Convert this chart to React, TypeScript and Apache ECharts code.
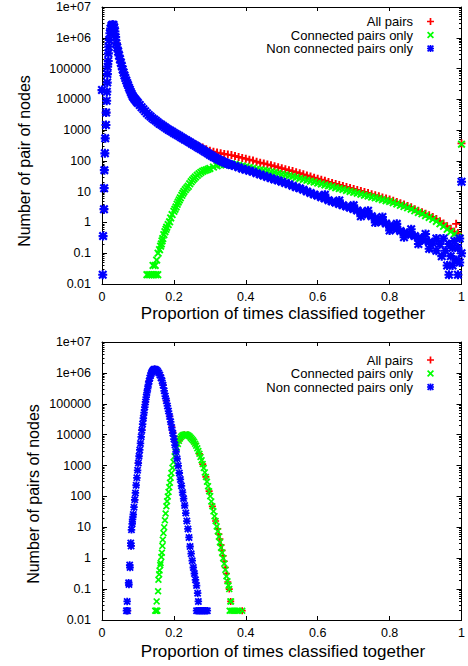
import React, { useEffect, useRef } from 'react';
import * as echarts from 'echarts';

// ---------- axis ticks / labels ----------
const xTicks = [0, 0.2, 0.4, 0.6, 0.8, 1];
const yTickLabels = ['0.01', '0.1', '1', '10', '100', '1000', '10000', '100000', '1e+06', '1e+07'];
const legendNames = ['All pairs', 'Connected pairs only', 'Non connected pairs only'];
const xTitle = 'Proportion of times classified together';
const yTitleTop = 'Number of pair of nodes';
const yTitleBottom = 'Number of pairs of nodes';

// ---------- top plot data [proportion, count] ----------
const allPairsTop = [
  [0, 20000], [0.0055, 2.7], [0.0115, 3700], [0.02, 850000], [0.03, 2650000], [0.04, 660000], [0.05, 200000],
  [0.06, 74000], [0.07, 34000], [0.08, 17400], [0.09, 10500], [0.1, 7600], [0.12, 4100], [0.14, 2450],
  [0.16, 1620], [0.18, 1120], [0.2, 815], [0.22, 600], [0.24, 445], [0.25, 385],
  [0.26, 340], [0.27, 300], [0.28, 270], [0.29, 241], [0.3, 215], [0.31, 198], [0.32, 186], [0.33, 176],
  [0.34, 168], [0.35, 160], [0.36, 154], [0.37, 145], [0.38, 134], [0.39, 125], [0.4, 117], [0.41, 109],
  [0.42, 102], [0.43, 94], [0.44, 87], [0.45, 82], [0.46, 77], [0.47, 72], [0.48, 67], [0.49, 62],
  [0.5, 58], [0.51, 54], [0.52, 50], [0.53, 46.5], [0.54, 43], [0.55, 40], [0.56, 36.5], [0.57, 33.5],
  [0.58, 31], [0.59, 28.5], [0.6, 26.4], [0.61, 24.4], [0.62, 22.6], [0.63, 20.8], [0.64, 19.3],
  [0.65, 17.9], [0.66, 16.6], [0.67, 15.4], [0.68, 14.3], [0.69, 13.2], [0.7, 12.3], [0.71, 11.4],
  [0.72, 10.5], [0.73, 9.7], [0.74, 9], [0.75, 8.3], [0.76, 7.7], [0.77, 7.1], [0.78, 6.5], [0.79, 6],
  [0.8, 5.6], [0.81, 5.1], [0.82, 4.6], [0.83, 4.2], [0.84, 3.8], [0.85, 3.4], [0.86, 3.1], [0.87, 2.7],
  [0.88, 2.4], [0.89, 2.15], [0.9, 1.9], [0.91, 1.7], [0.92, 1.5], [0.93, 1.3], [0.94, 1.1], [0.95, 0.92],
  [0.96, 0.75], [0.97, 0.62], [0.98, 0.5], [0.985, 0.9], [0.99, 0.45], [1, 370],
];

const connectedTop = [
  [0.125, 0.02], [0.13, 0.02], [0.135, 0.02], [0.14, 0.02], [0.145, 0.02], [0.15, 0.02], [0.155, 0.02],
  [0.142, 0.04], [0.148, 0.04], [0.152, 0.06], [0.156, 0.1], [0.16, 0.13], [0.163, 0.17], [0.165, 0.2],
  [0.167, 0.25], [0.169, 0.3], [0.172, 0.4], [0.175, 0.5], [0.178, 0.6], [0.18, 0.7], [0.184, 0.85],
  [0.188, 1.05], [0.191, 1.4], [0.195, 1.8], [0.2, 2.3], [0.203, 2.7], [0.206, 3.2], [0.209, 3.9],
  [0.212, 4.6], [0.215, 5.4], [0.218, 6.3], [0.222, 7.6], [0.225, 8.9], [0.228, 10.2], [0.232, 11.7],
  [0.236, 13.3], [0.24, 15], [0.244, 18], [0.248, 21], [0.252, 24], [0.256, 27], [0.26, 30], [0.265, 34],
  [0.27, 38], [0.275, 42], [0.28, 46], [0.285, 49], [0.29, 51], [0.295, 54], [0.3, 57], [0.31, 63],
  [0.32, 69], [0.33, 74], [0.34, 77], [0.35, 79], [0.36, 80], [0.37, 77], [0.38, 72], [0.39, 68],
  [0.4, 65], [0.41, 61], [0.42, 58], [0.43, 54], [0.44, 51], [0.45, 49], [0.46, 47], [0.47, 44],
  [0.48, 42], [0.49, 39], [0.5, 37], [0.51, 35], [0.52, 33], [0.53, 31], [0.54, 29], [0.55, 27],
  [0.56, 25], [0.57, 23.5], [0.58, 22], [0.59, 20.5], [0.6, 19], [0.61, 17.8], [0.62, 16.6], [0.63, 15.5],
  [0.64, 14.5], [0.65, 13.5], [0.66, 12.6], [0.67, 11.8], [0.68, 11], [0.69, 10.2], [0.7, 9.5],
  [0.71, 8.9], [0.72, 8.3], [0.73, 7.7], [0.74, 7.2], [0.75, 6.7], [0.76, 6.3], [0.77, 5.9], [0.78, 5.5],
  [0.79, 5.1], [0.8, 4.8], [0.81, 4.4], [0.82, 4], [0.83, 3.6], [0.84, 3.3], [0.85, 3], [0.86, 2.7],
  [0.87, 2.4], [0.88, 2.1], [0.89, 1.9], [0.9, 1.66], [0.91, 1.45], [0.92, 1.26], [0.93, 1.08],
  [0.94, 0.9], [0.95, 0.75], [0.96, 0.6], [0.97, 0.5], [0.98, 0.42], [0.99, 0.35], [0.995, 0.3], [1, 350],
];

const nonConnectedTop = [
  [0.002, 0.02], [0.003, 0.36], [0, 20000],
  [0.0055, 2.7], [0.006, 13], [0.0065, 50], [0.008, 176], [0.009, 540], [0.011, 1470], [0.0115, 3700],
  [0.013, 9000], [0.0135, 17800], [0.0145, 35000], [0.015, 66000], [0.0157, 115000], [0.0174, 176000],
  [0.0178, 312000], [0.0185, 513000], [0.02, 850000], [0.022, 1400000], [0.024, 2000000],
  [0.026, 2400000], [0.028, 2600000], [0.03, 2650000], [0.032, 2600000], [0.034, 2200000],
  [0.036, 1600000], [0.038, 1050000], [0.04, 660000], [0.0425, 480000], [0.045, 355000],
  [0.0475, 265000], [0.05, 200000], [0.0525, 155000], [0.055, 120000], [0.0575, 93000], [0.06, 74000],
  [0.0625, 60000], [0.065, 49000], [0.0675, 41000], [0.07, 34000], [0.0725, 29000], [0.075, 24000],
  [0.0775, 20500], [0.08, 17400], [0.0825, 15000], [0.085, 12900], [0.0875, 11600], [0.09, 10500],
  [0.0925, 9700], [0.095, 8900], [0.0975, 8200], [0.1, 7600], [0.105, 6500], [0.11, 5500], [0.115, 4800],
  [0.12, 4100], [0.125, 3550], [0.13, 3100], [0.135, 2750], [0.14, 2450], [0.145, 2200], [0.15, 2000],
  [0.155, 1800], [0.16, 1620], [0.165, 1480], [0.17, 1350], [0.175, 1230], [0.18, 1120], [0.185, 1030],
  [0.19, 955], [0.195, 880], [0.2, 810], [0.205, 750], [0.21, 690], [0.215, 640], [0.22, 590], [0.225, 545],
  [0.23, 500], [0.235, 465], [0.24, 430], [0.245, 395], [0.25, 360], [0.255, 335], [0.26, 310], [0.265, 285],
  [0.27, 263], [0.275, 243], [0.28, 224], [0.285, 207], [0.29, 190], [0.295, 173], [0.3, 158], [0.305, 146],
  [0.31, 135], [0.315, 126], [0.32, 117], [0.325, 109], [0.33, 102], [0.335, 96], [0.34, 91], [0.345, 86],
  [0.35, 81], [0.355, 77], [0.36, 74], [0.37, 68], [0.38, 62], [0.39, 56], [0.4, 52], [0.41, 48],
  [0.42, 44], [0.43, 40], [0.44, 36], [0.45, 33], [0.46, 30], [0.47, 27.5], [0.48, 25], [0.49, 23],
  [0.5, 21], [0.51, 19], [0.52, 17.4], [0.53, 15.6], [0.54, 14], [0.55, 12.8], [0.56, 11.5], [0.57, 10.2],
  [0.58, 9], [0.59, 8.1], [0.6, 7.4], [0.61, 6.6], [0.62, 6], [0.63, 5.3], [0.64, 4.8], [0.65, 4.4],
  [0.66, 4], [0.67, 3.6], [0.68, 3.3], [0.69, 3], [0.7, 2.75], [0.71, 2.45], [0.72, 2.2], [0.73, 2],
  [0.74, 1.8], [0.75, 1.6], [0.76, 1.4], [0.77, 1.2], [0.78, 1.05], [0.79, 0.92], [0.8, 0.8], [0.81, 0.7],
  [0.82, 0.6], [0.83, 0.53], [0.84, 0.47], [0.85, 0.43], [0.86, 0.4], [0.87, 0.36], [0.88, 0.32],
  [0.89, 0.29], [0.9, 0.26], [0.91, 0.23], [0.92, 0.21],
  [0.62, 8], [0.66, 5.2], [0.7, 3.6], [0.72, 1.6], [0.74, 2.4], [0.76, 1], [0.78, 1.5], [0.8, 0.55],
  [0.82, 0.9], [0.84, 0.33], [0.86, 0.6], [0.88, 0.2], [0.9, 0.42], [0.91, 0.14], [0.93, 0.3],
  [0.93, 0.12], [0.94, 0.2], [0.945, 0.08], [0.95, 0.3], [0.955, 0.12], [0.96, 0.04], [0.965, 0.02],
  [0.965, 0.2], [0.97, 0.08], [0.975, 0.15], [0.975, 0.04], [0.98, 0.25], [0.985, 0.06], [0.99, 0.02],
  [0.99, 0.15], [0.995, 0.3], [0.995, 0.05], [1, 21], [1, 0.1],
];

// ---------- bottom plot data [proportion, count] ----------
const allPairsBottom = [
  [0.071, 0.02], [0.081, 2.5], [0.091, 78], [0.101, 1200], [0.111, 14000], [0.121, 115000],
  [0.131, 540000], [0.141, 1180000], [0.147, 1300000], [0.152, 1220000], [0.161, 850000],
  [0.17, 400000], [0.179, 126000], [0.188, 39000], [0.194, 17500], [0.197, 12000], [0.2, 8900],
  [0.203, 7000], [0.206, 5900], [0.209, 5500], [0.212, 6000], [0.215, 6800], [0.22, 8300], [0.229, 10000],
  [0.238, 9800], [0.25, 7200], [0.259, 5100], [0.271, 2400], [0.28, 1120], [0.289, 430], [0.298, 148],
  [0.307, 48], [0.316, 16], [0.322, 9], [0.325, 6], [0.328, 4.2], [0.331, 2.7], [0.334, 1.8], [0.337, 1.2],
  [0.34, 0.8], [0.343, 0.5], [0.346, 0.32], [0.35, 0.17], [0.354, 0.1], [0.358, 0.04], [0.39, 0.02],
];

const connectedBottom = [
  [0.148, 0.02], [0.15, 0.02], [0.152, 0.02], [0.154, 0.02], [0.152, 0.04], [0.156, 0.085], [0.157, 0.2],
  [0.159, 0.3], [0.16, 0.4], [0.162, 0.6], [0.163, 0.7], [0.165, 1.1], [0.1665, 1.5], [0.168, 2.5],
  [0.169, 4], [0.171, 6.5], [0.173, 10], [0.175, 17], [0.177, 28], [0.179, 48], [0.181, 70], [0.183, 100],
  [0.185, 140], [0.187, 200], [0.189, 280], [0.191, 400], [0.193, 570], [0.196, 850], [0.199, 1300],
  [0.202, 2000], [0.205, 2800], [0.208, 3800], [0.211, 5000], [0.214, 6300], [0.217, 7500], [0.22, 8500],
  [0.223, 9300], [0.226, 9800], [0.229, 10000], [0.232, 10200], [0.235, 10100], [0.238, 9800],
  [0.241, 9300], [0.244, 8700], [0.247, 7900], [0.25, 7200], [0.253, 6600], [0.256, 5900], [0.259, 5100],
  [0.262, 4400], [0.265, 3600], [0.268, 2950], [0.271, 2400], [0.274, 1900], [0.277, 1480], [0.28, 1120],
  [0.283, 830], [0.286, 600], [0.289, 430], [0.292, 300], [0.295, 215], [0.298, 148], [0.301, 102],
  [0.304, 69], [0.307, 48], [0.31, 33], [0.313, 23], [0.316, 16], [0.319, 10.7], [0.322, 7.4], [0.325, 5],
  [0.328, 3.3], [0.331, 2.2], [0.334, 1.5], [0.337, 1], [0.34, 0.66], [0.343, 0.42], [0.346, 0.26],
  [0.349, 0.18], [0.352, 0.13], [0.354, 0.1], [0.357, 0.04], [0.359, 0.04], [0.355, 0.02], [0.36, 0.02],
  [0.365, 0.02], [0.37, 0.02], [0.375, 0.02], [0.38, 0.02], [0.39, 0.02],
];

const nonConnectedBottom = [
  [0.068, 0.02], [0.07, 0.04], [0.071, 0.02], [0.074, 0.16], [0.075, 0.14], [0.077, 0.6], [0.078, 0.5],
  [0.08, 3.1], [0.081, 2.5], [0.082, 8.3], [0.084, 13], [0.085, 18], [0.087, 26], [0.089, 45], [0.091, 78],
  [0.093, 130], [0.095, 230], [0.097, 400], [0.099, 700], [0.101, 1200], [0.103, 2000], [0.105, 3200],
  [0.107, 5200], [0.109, 8500], [0.111, 14000], [0.113, 22000], [0.115, 34000], [0.117, 52000],
  [0.119, 78000], [0.121, 115000], [0.123, 165000], [0.125, 230000], [0.127, 310000], [0.129, 420000],
  [0.131, 540000], [0.133, 680000], [0.135, 820000], [0.137, 950000], [0.139, 1080000], [0.141, 1180000],
  [0.143, 1250000], [0.145, 1300000], [0.147, 1300000], [0.149, 1280000], [0.152, 1220000],
  [0.155, 1120000], [0.158, 1000000], [0.161, 850000], [0.164, 700000], [0.167, 560000], [0.17, 400000],
  [0.173, 263000], [0.176, 178000], [0.179, 126000], [0.182, 85000], [0.185, 58000], [0.188, 39000],
  [0.191, 26000], [0.194, 17000], [0.197, 11200], [0.2, 7200], [0.203, 4600], [0.206, 2800], [0.209, 1660],
  [0.212, 980], [0.215, 575], [0.218, 355], [0.221, 220], [0.224, 135], [0.227, 85], [0.23, 51], [0.233, 29],
  [0.236, 16], [0.239, 8.9], [0.242, 4.7], [0.245, 2.4], [0.248, 1.4], [0.251, 0.83], [0.254, 0.5],
  [0.257, 0.32], [0.26, 0.2], [0.263, 0.13], [0.266, 0.074], [0.268, 0.04], [0.263, 0.02], [0.268, 0.02],
  [0.273, 0.02], [0.278, 0.02], [0.283, 0.02], [0.288, 0.02], [0.293, 0.02],
];

const FONT = 'Liberation Sans, Arial, Helvetica, sans-serif';
const PLUS = 'path://M3.8,0H6.2V3.8H10V6.2H6.2V10H3.8V6.2H0V3.8H3.8Z';
const CROSS = 'path://M0,1.7L1.7,0L5,3.3L8.3,0L10,1.7L6.7,5L10,8.3L8.3,10L5,6.7L1.7,10L0,8.3L3.3,5Z';
const STAR =
  'path://M3.8,0H6.2V3.8H10V6.2H6.2V10H3.8V6.2H0V3.8H3.8ZM0,1.7L1.7,0L5,3.3L8.3,0L10,1.7L6.7,5L10,8.3L8.3,10L5,6.7L1.7,10L0,8.3L3.3,5Z';
const COLORS = ['#ff0000', '#00ff00', '#0000ff'];
const SYMBOLS = [PLUS, CROSS, STAR];

// positions (in log10 space) of the minor ticks 2..9 of every decade
const minorTickPositions: number[] = [];
for (let e = -2; e < 7; e++) {
  for (let k = 2; k <= 9; k++) minorTickPositions.push(Math.log10(k) + e);
}

function yLabel(v: number) {
  const i = Math.round(Math.log10(v)) + 2;
  return yTickLabels[i] ?? '';
}

function buildAxes(gi: number) {
  const lineStyle = { color: '#000', width: 1 };
  const xa = [
    {
      gridIndex: gi, type: 'value', min: 0, max: 1, interval: 0.2, position: 'bottom',
      axisLine: { show: true, onZero: false, lineStyle },
      axisTick: { show: true, inside: true, length: 4, lineStyle },
      axisLabel: {
        show: true, color: '#000', fontSize: 12.5, fontFamily: FONT, margin: 6,
        formatter: (v: number) => (xTicks.indexOf(Math.round(v * 10) / 10) >= 0 ? String(Math.round(v * 10) / 10) : ''),
      },
      splitLine: { show: false },
    },
    {
      gridIndex: gi, type: 'value', min: 0, max: 1, interval: 0.2, position: 'top',
      axisLine: { show: true, onZero: false, lineStyle },
      axisTick: { show: true, inside: true, length: 4, lineStyle },
      axisLabel: { show: false },
      splitLine: { show: false },
    },
  ];
  const ya = [
    {
      gridIndex: gi, type: 'log', logBase: 10, min: 0.01, max: 10000000, interval: 1, position: 'left',
      axisLine: { show: true, onZero: false, lineStyle },
      axisTick: { show: true, inside: true, length: 5, lineStyle },
      axisLabel: { show: true, color: '#000', fontSize: 12.5, fontFamily: FONT, margin: 11, formatter: yLabel },
      splitLine: { show: false },
    },
    {
      gridIndex: gi, type: 'log', logBase: 10, min: 0.01, max: 10000000, interval: 1, position: 'right',
      axisLine: { show: true, onZero: false, lineStyle },
      axisTick: { show: true, inside: true, length: 5, lineStyle },
      axisLabel: { show: false },
      splitLine: { show: false },
    },
    {
      gridIndex: gi, type: 'value', min: -2, max: 7, position: 'left',
      axisLine: { show: false, onZero: false },
      axisTick: { show: true, inside: true, length: 2.5, customValues: minorTickPositions, lineStyle },
      axisLabel: { show: false },
      splitLine: { show: false },
    },
    {
      gridIndex: gi, type: 'value', min: -2, max: 7, position: 'right',
      axisLine: { show: false, onZero: false },
      axisTick: { show: true, inside: true, length: 2.5, customValues: minorTickPositions, lineStyle },
      axisLabel: { show: false },
      splitLine: { show: false },
    },
  ];
  return { xa, ya };
}

function scatter(name: string, idx: number, gi: number, data: number[][], size: number) {
  return {
    type: 'scatter',
    name,
    xAxisIndex: gi * 2,
    yAxisIndex: gi * 4,
    data,
    symbol: SYMBOLS[idx],
    symbolSize: size,
    itemStyle: { color: COLORS[idx], opacity: 1 },
    emphasis: { disabled: true },
    silent: true,
  };
}

export default function App() {
  const ref = useRef<HTMLDivElement>(null);
  useEffect(() => {
    if (!ref.current) return;
    const chart = echarts.init(ref.current, undefined, { renderer: 'svg' });
    const top = buildAxes(0);
    const bot = buildAxes(1);
    const legendCommon = {
      orient: 'vertical', right: 29, align: 'right', itemWidth: 7, itemHeight: 7, itemGap: 0.5,
      selectedMode: false, data: legendNames,
      textStyle: { fontSize: 13, fontFamily: FONT, color: '#000', padding: [0, 9, 0, 0], lineHeight: 13 },
    };
    chart.setOption({
      animation: false,
      backgroundColor: '#fff',
      grid: [
        { left: 102, top: 7, width: 362, height: 277, containLabel: false },
        { left: 102, top: 342, width: 362, height: 278, containLabel: false },
      ],
      xAxis: [...top.xa, ...bot.xa],
      yAxis: [...top.ya, ...bot.ya],
      legend: [
        { ...legendCommon, top: 10 },
        { ...legendCommon, top: 348.5 },
      ],
      series: [
        scatter(legendNames[0], 0, 0, allPairsTop, 8),
        scatter(legendNames[1], 1, 0, connectedTop, 8),
        scatter(legendNames[2], 2, 0, nonConnectedTop, 9),
        scatter(legendNames[0], 0, 1, allPairsBottom, 7),
        scatter(legendNames[1], 1, 1, connectedBottom, 7),
        scatter(legendNames[2], 2, 1, nonConnectedBottom, 7.5),
      ],
      graphic: [
        {
          type: 'text', x: 283, y: 313.5,
          style: { text: xTitle, fontSize: 17, fontFamily: FONT, fill: '#000', align: 'center', verticalAlign: 'middle' },
        },
        {
          type: 'text', x: 283, y: 651,
          style: { text: xTitle, fontSize: 17, fontFamily: FONT, fill: '#000', align: 'center', verticalAlign: 'middle' },
        },
        {
          type: 'text', x: 24, y: 161, rotation: Math.PI / 2,
          style: { text: yTitleTop, fontSize: 16, fontFamily: FONT, fill: '#000', align: 'center', verticalAlign: 'middle' },
        },
        {
          type: 'text', x: 33, y: 494, rotation: Math.PI / 2,
          style: { text: yTitleBottom, fontSize: 16, fontFamily: FONT, fill: '#000', align: 'center', verticalAlign: 'middle' },
        },
      ],
    });
    return () => chart.dispose();
  }, []);
  return <div ref={ref} style={{ position: 'absolute', left: 0, top: 0, width: 468, height: 666 }} />;
}
